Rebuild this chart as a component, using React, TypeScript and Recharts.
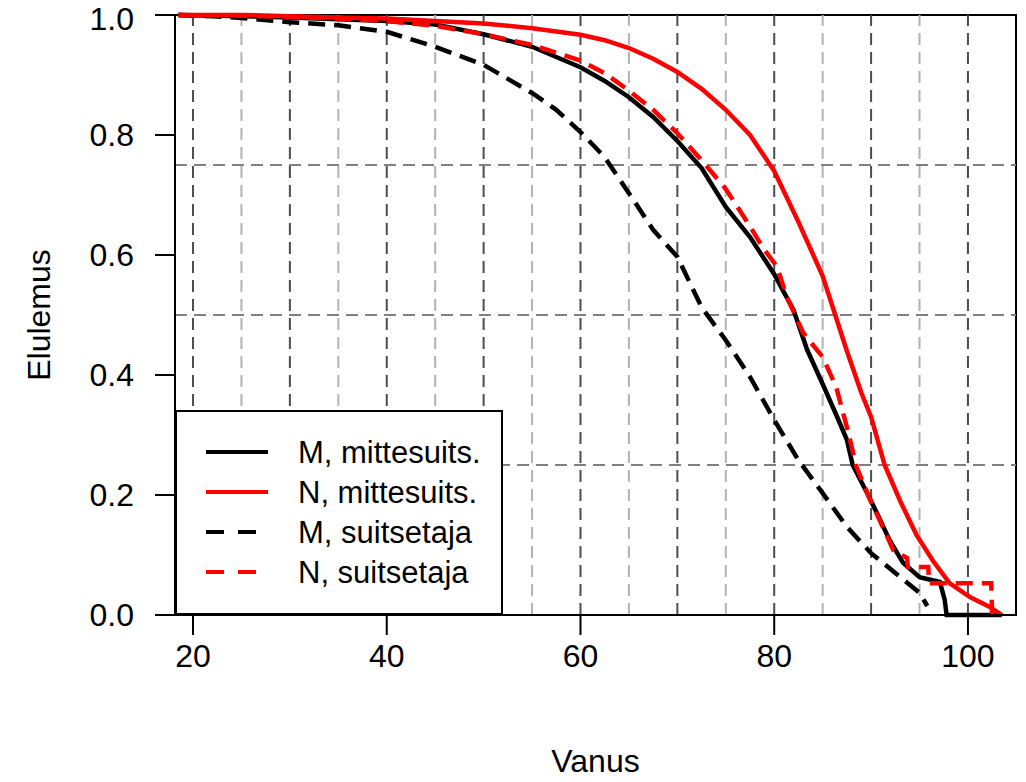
import React from 'react';
import { LineChart, Line, XAxis, YAxis, ReferenceLine, ReferenceArea, Legend, Label } from 'recharts';

const FONT = '"Liberation Sans", Arial, Helvetica, sans-serif';

// axis ticks and grid positions
const ageTicks = [20, 40, 60, 80, 100];
const survTicks = [0, 0.2, 0.4, 0.6, 0.8, 1.0];
const gridAgesMajor = [20, 30, 40, 50, 60, 70, 80, 90, 100];
const gridAgesMinor = [25, 35, 45, 55, 65, 75, 85, 95];
const gridSurv = [0.25, 0.5, 0.75];
const ageDomain = [18.14, 104.96];

// M, mittesuits.
const mNonAge = [18.5, 25, 30, 35, 40, 45, 50, 55, 60, 62.5, 65, 67.5, 70, 72.5, 75, 77.5, 80, 82, 83.4, 85, 86.5, 87.5, 88.1, 89.6, 90.6, 91.9, 93.3, 95, 97.1, 97.6, 97.8, 103.5];
const mNonSurv = [1, 0.998, 0.996, 0.993, 0.99, 0.984, 0.968, 0.947, 0.913, 0.89, 0.863, 0.83, 0.79, 0.745, 0.68, 0.63, 0.568, 0.508, 0.442, 0.385, 0.33, 0.292, 0.25, 0.203, 0.17, 0.125, 0.087, 0.063, 0.055, 0.025, 0, 0];

// N, mittesuits.
const nNonAge = [18.5, 25, 30, 35, 40, 45, 50, 55, 60, 62.5, 65, 67.5, 70, 72.5, 75, 77.5, 80, 82.5, 85, 86.3, 87.5, 89, 90, 91.4, 93, 94.7, 96.4, 98.1, 100.2, 102.3, 103.5];
const nNonSurv = [1, 1, 0.998, 0.996, 0.994, 0.99, 0.986, 0.978, 0.967, 0.958, 0.945, 0.927, 0.905, 0.877, 0.842, 0.8, 0.74, 0.655, 0.565, 0.5, 0.44, 0.37, 0.33, 0.25, 0.19, 0.133, 0.09, 0.053, 0.03, 0.013, 0];

// M, suitsetaja
const mSmAge = [18.5, 22, 25, 30, 35, 40, 45, 50, 55, 57.5, 60, 62.5, 65, 67.5, 70, 72.5, 75, 77.5, 80, 82.5, 85, 87.5, 90, 92.5, 95, 95.8];
const mSmSurv = [1, 0.998, 0.995, 0.988, 0.983, 0.972, 0.947, 0.917, 0.87, 0.842, 0.805, 0.763, 0.703, 0.642, 0.597, 0.513, 0.458, 0.397, 0.325, 0.258, 0.203, 0.147, 0.103, 0.07, 0.037, 0.015];

// N, suitsetaja
const nSmAge = [18.5, 25, 30, 35, 40, 45, 50, 55, 57.5, 60, 62.5, 65, 67.5, 70, 72.5, 75, 77.5, 78.8, 80.3, 81.3, 83, 85, 86.4, 87.5, 88.5, 89.9, 91.2, 92.3, 93.7, 93.8, 95.9, 96, 102.4, 102.5];
const nSmSurv = [1, 0.999, 0.997, 0.994, 0.99, 0.982, 0.968, 0.95, 0.937, 0.924, 0.903, 0.874, 0.842, 0.803, 0.758, 0.71, 0.648, 0.613, 0.58, 0.53, 0.47, 0.43, 0.38, 0.313, 0.247, 0.192, 0.147, 0.108, 0.095, 0.08, 0.08, 0.053, 0.053, 0];

const zip = (ages: number[], surv: number[]) => ages.map((a, i) => ({ age: a, s: surv[i] }));

const series = [
  { name: 'M, mittesuits.', color: '#000000', dashed: false, data: zip(mNonAge, mNonSurv) },
  { name: 'N, mittesuits.', color: '#ff0000', dashed: false, data: zip(nNonAge, nNonSurv) },
  { name: 'M, suitsetaja', color: '#000000', dashed: true, data: zip(mSmAge, mSmSurv) },
  { name: 'N, suitsetaja', color: '#ff0000', dashed: true, data: zip(nSmAge, nSmSurv) },
];

const LegendBox = () => (
  <svg width={328} height={205} style={{ display: 'block' }}>
    <rect x={1} y={1} width={326} height={203} fill="#fff" stroke="#000" strokeWidth={2} />
    {series.map((s, i) => {
      const cy = 42 + i * 40;
      return (
        <g key={s.name}>
          <line x1={31} x2={93} y1={cy} y2={cy} stroke={s.color} strokeWidth={4}
            strokeDasharray={s.dashed ? '18 14' : undefined} />
          <text x={123} y={cy + 11} fontSize={31} fontFamily={FONT} fill="#000">{s.name}</text>
        </g>
      );
    })}
  </svg>
);

const YTitle = (props: any) => {
  const vb = props.viewBox;
  const x = vb.x + 50;
  const y = vb.y + vb.height / 2;
  return (
    <text x={x} y={y} transform={`rotate(-90 ${x} ${y})`} textAnchor="middle" fontSize={32} fontFamily={FONT} fill="#000">
      Elulemus
    </text>
  );
};

const XTitle = (props: any) => {
  const vb = props.viewBox;
  return (
    <text x={vb.x + vb.width / 2} y={vb.y + 157} textAnchor="middle" fontSize={32} fontFamily={FONT} fill="#000">
      Vanus
    </text>
  );
};

export default function App() {
  return (
    <div style={{ position: 'absolute', left: 0, top: 0, background: '#fff' }}>
      <LineChart width={1026} height={782} margin={{ top: 15, right: 10, bottom: 0, left: 0 }}>
        <XAxis
          type="number"
          dataKey="age"
          domain={ageDomain}
          ticks={ageTicks}
          allowDataOverflow
          height={167}
          tickSize={20}
          tickMargin={9}
          stroke="#000"
          strokeWidth={2}
          tick={{ fill: '#000', fontSize: 32, fontFamily: FONT }}
        >
          <Label content={XTitle} />
        </XAxis>
        <YAxis
          type="number"
          domain={[0, 1]}
          ticks={survTicks}
          width={175}
          tickSize={20}
          tickMargin={21}
          stroke="#000"
          strokeWidth={2}
          tickFormatter={(v: number) => v.toFixed(1)}
          tick={{ fill: '#000', fontSize: 32, fontFamily: FONT }}
        >
          <Label content={YTitle} />
        </YAxis>
        {gridAgesMinor.map((a) => (
          <ReferenceLine key={`mn${a}`} x={a} stroke="#b3b3b3" strokeWidth={2} strokeDasharray="12 7" />
        ))}
        {gridAgesMajor.map((a) => (
          <ReferenceLine key={`mj${a}`} x={a} stroke="#4d4d4d" strokeWidth={2} strokeDasharray="12 7" />
        ))}
        {gridSurv.map((v) => (
          <ReferenceLine key={`h${v}`} y={v} stroke="#808080" strokeWidth={2} strokeDasharray="12 7" />
        ))}
        <ReferenceArea x1={ageDomain[0]} x2={ageDomain[1]} y1={0} y2={1} fill="none" stroke="#000" strokeWidth={2} />
        {series.map((s) => (
          <Line
            key={s.name}
            name={s.name}
            data={s.data}
            dataKey="s"
            type="linear"
            stroke={s.color}
            strokeWidth={4.5}
            strokeDasharray={s.dashed ? '17 9' : undefined}
            dot={false}
            activeDot={false}
            isAnimationActive={false}
          />
        ))}
        <Legend
          layout="vertical"
          align="center"
          verticalAlign="middle"
          content={LegendBox}
          wrapperStyle={{ left: 175, top: 410, width: 328, height: 205 }}
        />
      </LineChart>
    </div>
  );
}
